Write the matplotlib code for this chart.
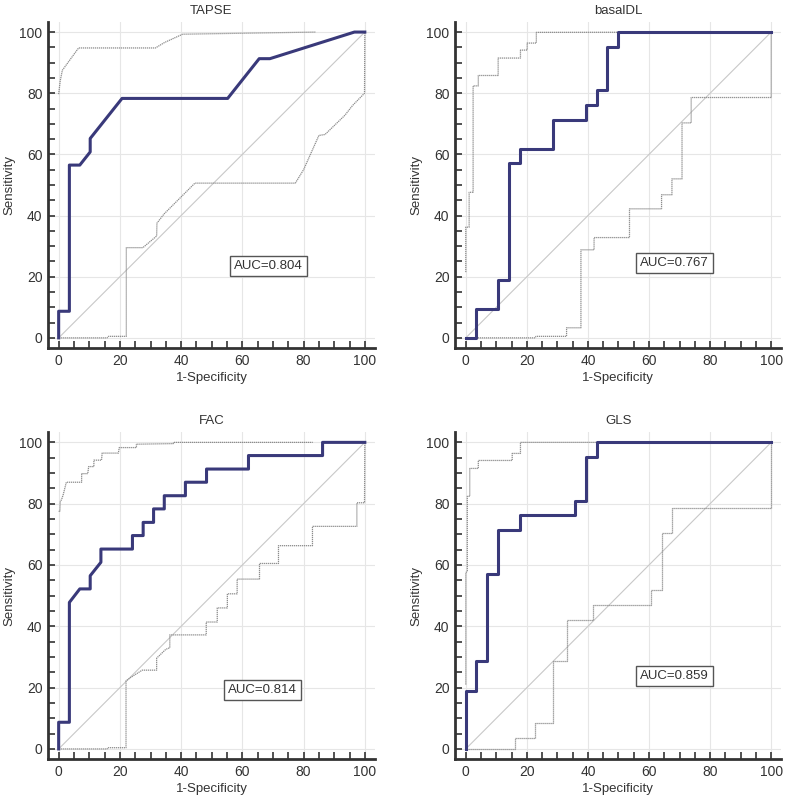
import matplotlib.pyplot as plt
from matplotlib.ticker import MultipleLocator

plt.rcParams['font.family'] = ['Liberation Sans', 'DejaVu Sans']

titles = ["TAPSE", "basalDL", "FAC", "GLS"]
aucs = ["AUC=0.804", "AUC=0.767", "AUC=0.814", "AUC=0.859"]

# ROC curves (1-specificity, sensitivity)
tapse_x = [0, 0, 3.5, 3.5, 6.9, 10.3, 10.3, 20.7, 55.2, 58.6, 65.5, 69.0, 96.6, 100]
tapse_y = [0, 8.7, 8.7, 56.5, 56.5, 60.8, 65.2, 78.3, 78.3, 82.6, 91.3, 91.3, 100, 100]
tapse_up_x = [0, 0.5, 1.2, 6.5, 31.6, 34.6, 40.5, 84.0]
tapse_up_y = [79.7, 84.0, 87.5, 94.8, 94.8, 96.6, 99.3, 100]
tapse_lo_x = [0, 15.8, 16.3, 22.1, 22.1, 27.5, 32.0, 32.1, 34.4, 44.5, 77.3, 80.0, 85.0, 87.0, 93.5, 96.0, 99.9, 100]
tapse_lo_y = [0, 0, 0.5, 0.5, 29.5, 29.5, 33.3, 37.5, 40.5, 50.6, 50.6, 55.0, 66.2, 66.5, 72.8, 76.0, 80.0, 100]

basal_x = [0, 3.4, 3.4, 10.7, 10.7, 14.3, 14.3, 17.9, 17.9, 28.6, 28.6, 39.3, 39.3, 42.9, 42.9, 46.4, 46.4, 50.0, 50.0, 100]
basal_y = [0, 0, 9.5, 9.5, 19.0, 19.0, 57.1, 57.1, 61.9, 61.9, 71.4, 71.4, 76.2, 76.2, 81.0, 81.0, 95.2, 95.2, 100, 100]
basal_up_x = [0, 0, 1.1, 1.1, 2.4, 2.4, 4.1, 4.1, 10.6, 10.6, 17.9, 17.9, 20.1, 20.1, 23.1, 23.1, 100]
basal_up_y = [21.5, 36.2, 36.2, 47.6, 47.6, 82.4, 82.4, 85.8, 85.8, 91.5, 91.5, 94.1, 94.1, 96.4, 96.4, 99.9, 100]
basal_lo_x = [0, 22.7, 23.0, 33.0, 33.0, 37.7, 37.7, 42.0, 42.0, 53.6, 53.6, 64.1, 64.1, 67.5, 67.5, 70.8, 70.8, 73.8, 73.8, 100, 100]
basal_lo_y = [0, 0, 0.5, 0.5, 3.3, 3.3, 28.8, 28.8, 32.8, 32.8, 42.2, 42.2, 46.8, 46.8, 52.0, 52.0, 70.3, 70.3, 78.6, 78.6, 100]

fac_x = [0, 0, 3.5, 3.5, 6.9, 10.3, 10.3, 13.8, 13.8, 24.1, 24.1, 27.6, 27.6, 31.0, 31.0, 34.5, 34.5, 41.4, 41.4, 48.3, 48.3, 62.0, 62.0, 86.2, 86.2, 100]
fac_y = [0, 8.7, 8.7, 47.8, 52.2, 52.2, 56.5, 60.9, 65.2, 65.2, 69.6, 69.6, 73.9, 73.9, 78.3, 78.3, 82.6, 82.6, 87.0, 87.0, 91.3, 91.3, 95.7, 95.7, 100, 100]
fac_up_x = [0, 0.4, 0.5, 1.0, 1.5, 2.5, 7.5, 7.5, 9.5, 9.8, 11.5, 11.5, 14.0, 14.2, 19.5, 19.8, 25.4, 25.4, 37.5, 37.5, 83.0]
fac_up_y = [77.5, 77.5, 80.5, 81.5, 83.0, 87.0, 87.0, 89.8, 89.8, 92.1, 92.1, 94.2, 94.2, 96.5, 96.5, 98.3, 98.3, 99.4, 99.6, 100, 100]
fac_lo_x = [0, 15.8, 16.0, 22.0, 22.0, 23.8, 27.3, 32.0, 32.0, 35.0, 36.3, 36.3, 48.2, 48.2, 51.8, 51.8, 55.1, 55.1, 58.3, 58.3, 65.6, 65.6, 71.8, 71.8, 82.9, 82.9, 97.4, 97.4, 99.9, 100]
fac_lo_y = [0, 0, 0.4, 0.4, 22.2, 23.5, 25.7, 25.7, 29.6, 32.5, 33.0, 37.2, 37.2, 41.4, 41.4, 46.0, 46.0, 50.6, 50.6, 55.4, 55.4, 60.5, 60.5, 66.3, 66.3, 72.6, 72.6, 80.3, 80.3, 100]

gls_x = [0, 0, 3.4, 3.4, 7.1, 7.1, 10.7, 10.7, 17.9, 17.9, 35.7, 35.7, 39.3, 39.3, 42.9, 42.9, 100]
gls_y = [0, 19.0, 19.0, 28.6, 28.6, 57.1, 57.1, 71.4, 71.4, 76.2, 76.2, 81.0, 81.0, 95.2, 95.2, 100, 100]
gls_up_x = [0, 0, 0.5, 0.5, 1.3, 1.3, 4.1, 4.1, 15.2, 15.2, 17.9, 17.9, 100]
gls_up_y = [21.0, 57.5, 58.0, 82.4, 82.4, 91.5, 91.5, 94.1, 94.1, 96.4, 96.4, 100, 100]
gls_lo_x = [0, 16.2, 16.2, 22.7, 22.7, 28.4, 28.4, 33.0, 33.0, 41.8, 41.8, 60.8, 60.8, 64.1, 64.1, 67.5, 67.5, 100, 100]
gls_lo_y = [0, 0, 3.5, 3.5, 8.4, 8.4, 28.8, 28.8, 42.2, 42.2, 46.8, 46.8, 52.0, 52.0, 70.3, 70.3, 78.6, 78.6, 100]

curves = [(tapse_x, tapse_y), (basal_x, basal_y), (fac_x, fac_y), (gls_x, gls_y)]
uppers = [(tapse_up_x, tapse_up_y), (basal_up_x, basal_up_y), (fac_up_x, fac_up_y), (gls_up_x, gls_up_y)]
lowers = [(tapse_lo_x, tapse_lo_y), (basal_lo_x, basal_lo_y), (fac_lo_x, fac_lo_y), (gls_lo_x, gls_lo_y)]
auc_pos = [(68.5, 23.4), (68.4, 24.5), (66.6, 19.2), (68.4, 23.9)]

# axes rectangles in figure fraction
rects = [[0.061, 0.5645, 0.416, 0.408],
         [0.579, 0.5645, 0.415, 0.408],
         [0.061, 0.050, 0.416, 0.409],
         [0.579, 0.050, 0.415, 0.409]]

fig = plt.figure(figsize=(7.86, 7.99), dpi=100)
txt = '#333333'

for i in range(4):
    ax = fig.add_axes(rects[i])
    ax.grid(True, color='#e6e6e6', linewidth=0.8)
    ax.set_axisbelow(True)
    ax.plot([0, 100], [0, 100], color='#c8c8c8', linewidth=0.8)
    ax.plot(uppers[i][0], uppers[i][1], color='#8c8c8c', linewidth=0.9, linestyle=(0, (1, 0.6)))
    ax.plot(lowers[i][0], lowers[i][1], color='#8c8c8c', linewidth=0.9, linestyle=(0, (1, 0.6)))
    ax.plot(curves[i][0], curves[i][1], color='#39397a', linewidth=2.2)
    ax.text(auc_pos[i][0], auc_pos[i][1], aucs[i], ha='center', va='center', fontsize=9.5, color=txt,
            bbox=dict(boxstyle='square,pad=0.3', facecolor='white', edgecolor='#555555', linewidth=1.0))
    ax.set_xlim(-3.5, 103.3)
    ax.set_ylim(-3.3, 103.3)
    ax.set_xticks([0, 20, 40, 60, 80, 100])
    ax.set_yticks([0, 20, 40, 60, 80, 100])
    ax.xaxis.set_minor_locator(MultipleLocator(5))
    ax.yaxis.set_minor_locator(MultipleLocator(5))
    ax.tick_params(which='both', direction='in', length=5, width=1.2, color='#333333',
                   labelsize=10, labelcolor=txt, pad=4)
    ax.spines['top'].set_visible(False)
    ax.spines['right'].set_visible(False)
    ax.spines['left'].set_linewidth(2)
    ax.spines['bottom'].set_linewidth(2)
    ax.spines['left'].set_color('#333333')
    ax.spines['bottom'].set_color('#333333')
    ax.set_title(titles[i], fontsize=9.5, color=txt, pad=6)
    ax.set_xlabel("1-Specificity", fontsize=9.5, color=txt, labelpad=3)
    ax.set_ylabel("Sensitivity", fontsize=9.5, color=txt, labelpad=3)

fig.savefig("out.png", dpi=100)
